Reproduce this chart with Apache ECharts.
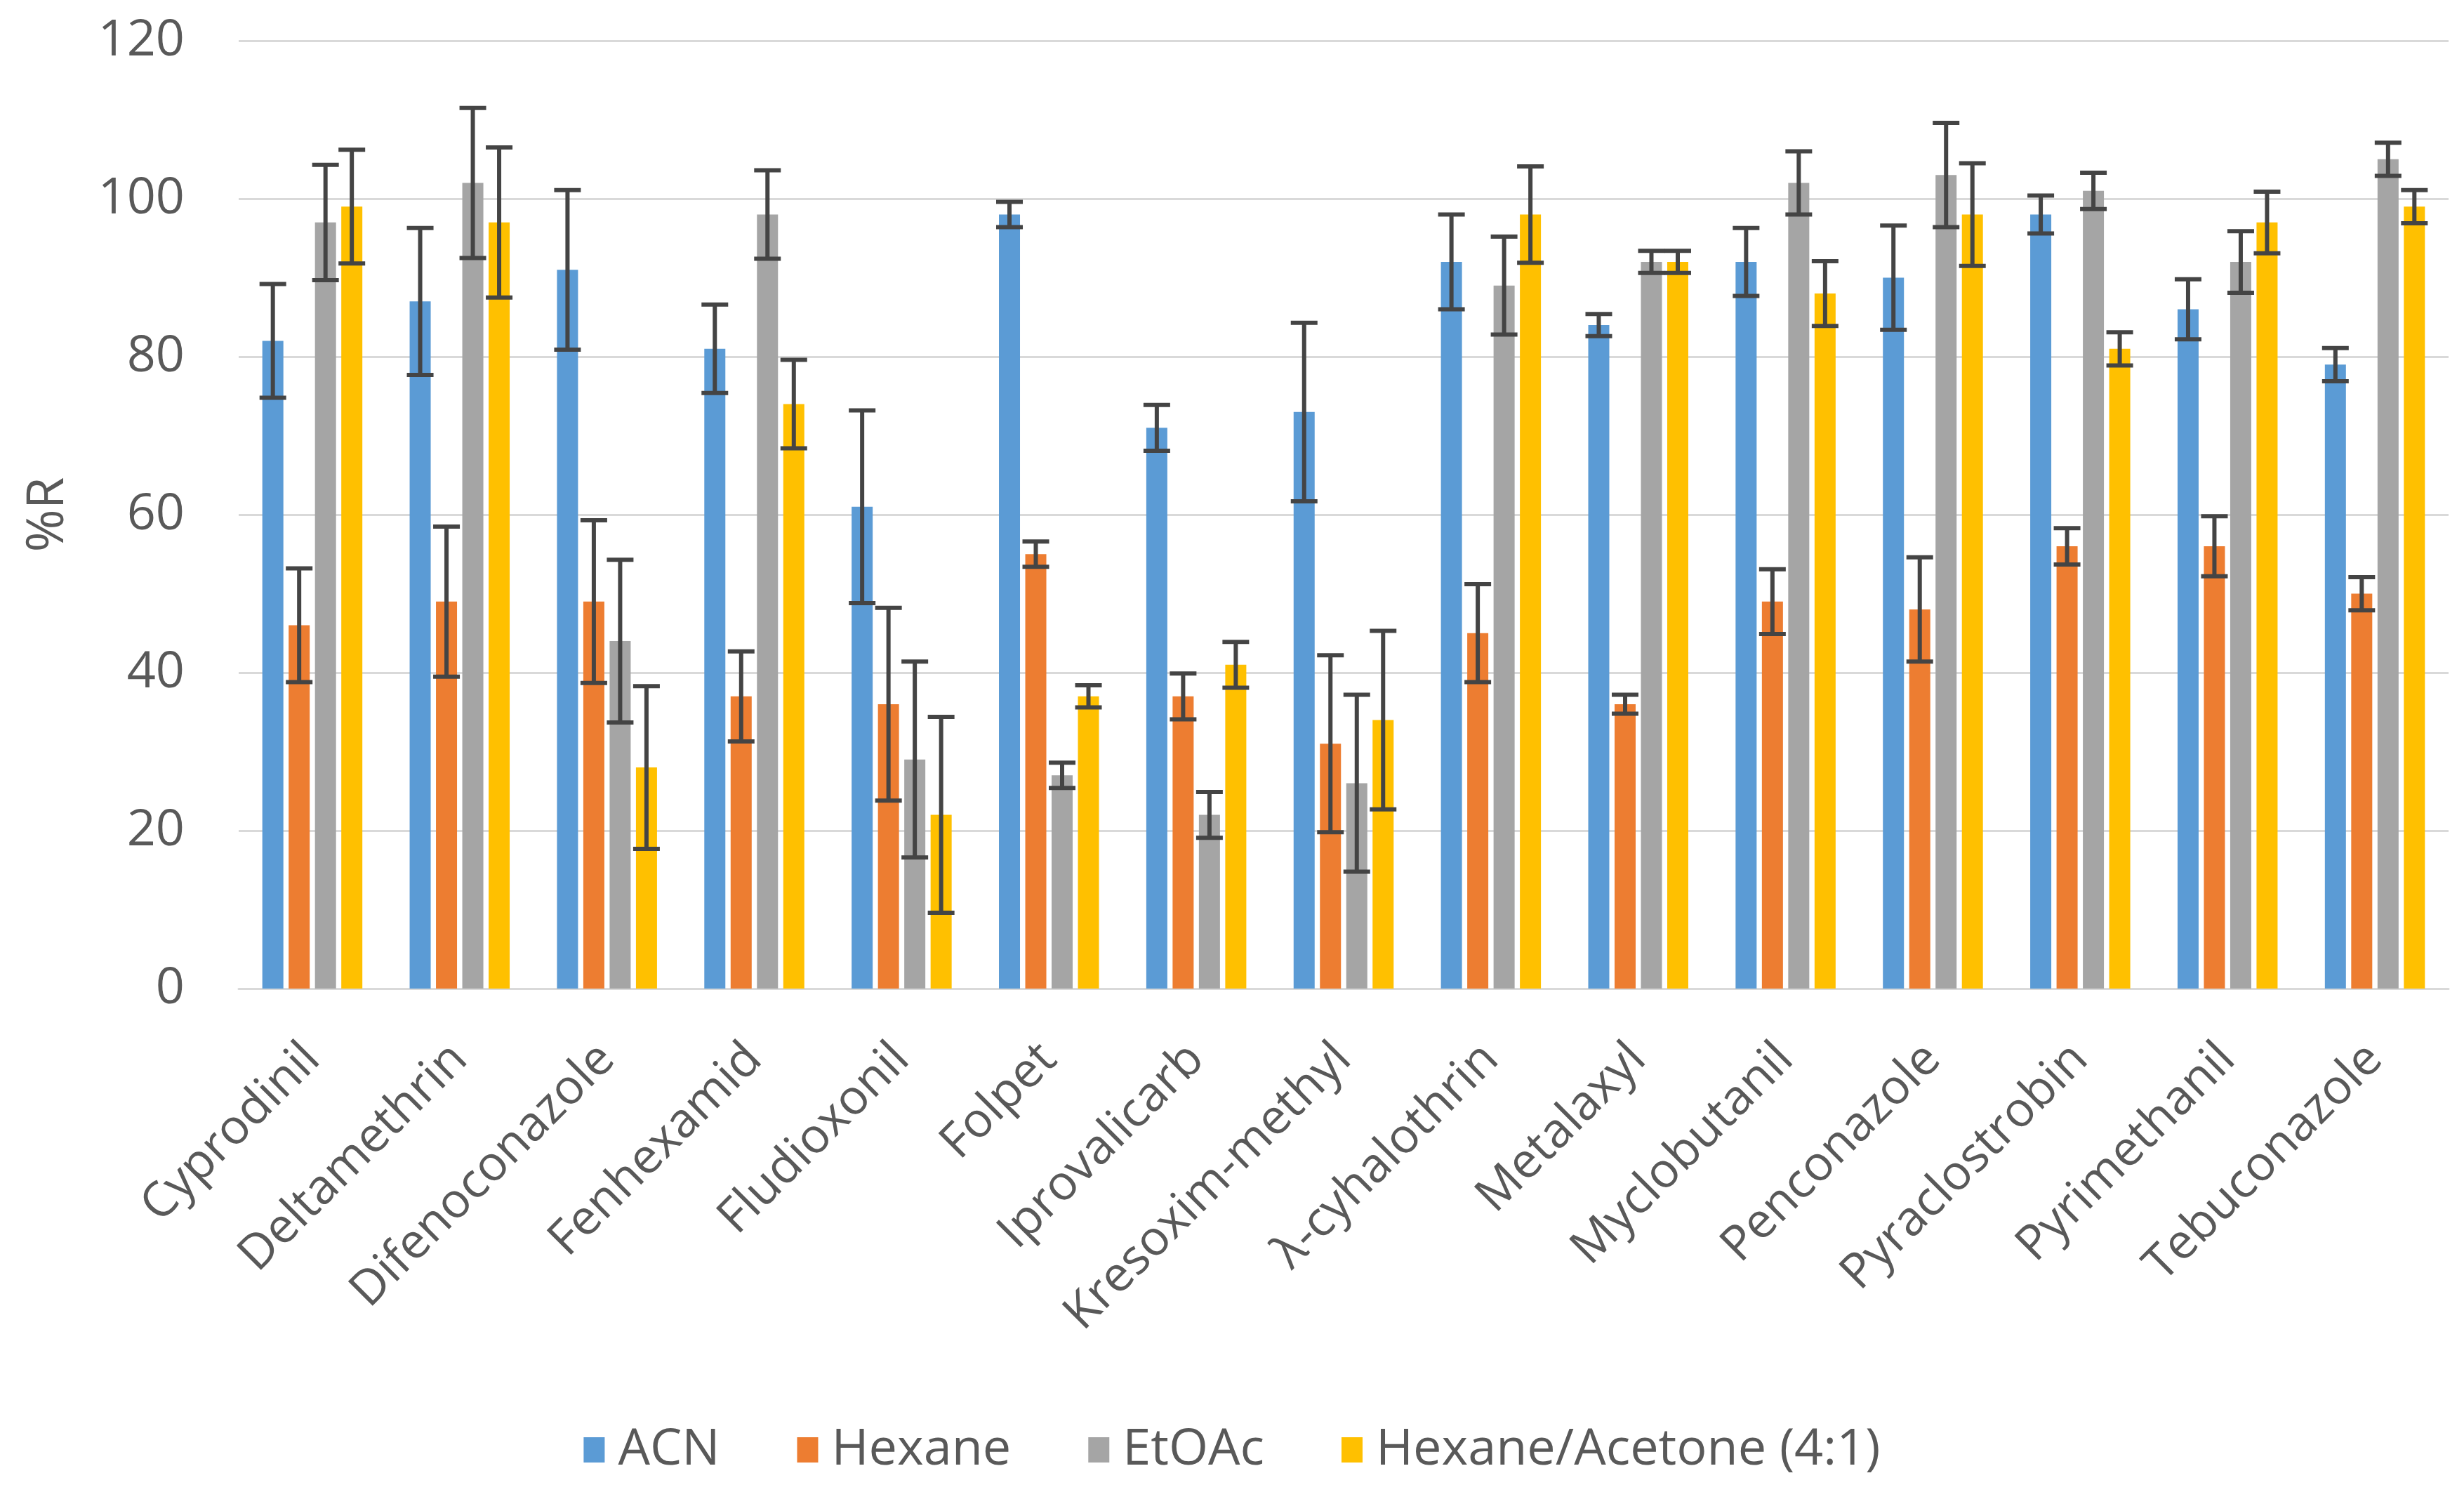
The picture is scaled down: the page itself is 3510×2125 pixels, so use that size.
<!DOCTYPE html>
<html>
<head>
<meta charset="utf-8">
<script src="https://cdn.jsdelivr.net/npm/echarts@6/dist/echarts.min.js"></script>
<style>
html,body{margin:0;padding:0;background:#fff;}
#chart{width:3510px;height:2125px;}
</style>
</head>
<body>
<div id="chart"></div>
<script>
const categories = ['Cyprodinil','Deltamethrin','Difenoconazole','Fenhexamid','Fludioxonil','Folpet','Iprovalicarb','Kresoxim-methyl','λ-cyhalothrin','Metalaxyl','Myclobutanil','Penconazole','Pyraclostrobin','Pyrimethanil','Tebuconazole'];
const seriesNames = ['ACN','Hexane','EtOAc','Hexane/Acetone (4:1)'];
const acn     = [82, 87, 91, 81, 61, 98, 71, 73, 92, 84, 92, 90, 98, 86, 79];
const hexane  = [46, 49, 49, 37, 36, 55, 37, 31, 45, 36, 49, 48, 56, 56, 50];
const etoac   = [97, 102, 44, 98, 29, 27, 22, 26, 89, 92, 102, 103, 101, 92, 105];
const hexAc   = [99, 97, 28, 74, 22, 37, 41, 34, 98, 92, 88, 98, 81, 97, 99];
const acnErr    = [7.2, 9.3, 10.1, 5.6, 12.2, 1.6, 2.9, 11.3, 6.0, 1.4, 4.3, 6.6, 2.4, 3.8, 2.1];
const hexaneErr = [7.2, 9.5, 10.3, 5.7, 12.2, 1.6, 2.9, 11.2, 6.2, 1.2, 4.1, 6.6, 2.3, 3.8, 2.1];
const etoacErr  = [7.3, 9.5, 10.3, 5.6, 12.4, 1.6, 2.9, 11.2, 6.2, 1.4, 4.0, 6.6, 2.3, 3.9, 2.1];
const hexAcErr  = [7.2, 9.5, 10.3, 5.6, 12.4, 1.4, 2.9, 11.3, 6.1, 1.4, 4.1, 6.5, 2.1, 3.9, 2.1];
const yTicks = [0, 20, 40, 60, 80, 100, 120];

const colors = ['#5B9BD5', '#ED7D31', '#A5A5A5', '#FFC000'];
const values = [acn, hexane, etoac, hexAc];
const errs = [acnErr, hexaneErr, etoacErr, hexAcErr];
const BAR_W = 30, BAR_GAP = 7.5;
const FONT = '"Open Sans", "Liberation Sans", sans-serif';
const TEXT = '#595959';

const chart = echarts.init(document.getElementById('chart'));

const barSeries = seriesNames.map((name, i) => ({
  name: name,
  type: 'bar',
  data: values[i],
  barWidth: BAR_W,
  barGap: (BAR_GAP / BAR_W * 100) + '%',
  itemStyle: { color: colors[i] },
  emphasis: { disabled: true },
  z: 2
}));

const errSeries = seriesNames.map((name, i) => ({
  name: name,
  type: 'custom',
  z: 5,
  silent: true,
  data: values[i].map((v, k) => [k, v - errs[i][k], v + errs[i][k]]),
  renderItem: function (params, api) {
    const idx = api.value(0);
    const lo = api.coord([idx, api.value(1)]);
    const hi = api.coord([idx, api.value(2)]);
    const off = (i - 1.5) * (BAR_W + BAR_GAP);
    const x = lo[0] + off;
    const hw = 19;
    const style = { stroke: '#444444', lineWidth: 6, fill: null };
    return {
      type: 'group',
      children: [
        { type: 'line', shape: { x1: x, y1: lo[1], x2: x, y2: hi[1] }, style: style },
        { type: 'line', shape: { x1: x - hw, y1: lo[1], x2: x + hw, y2: lo[1] }, style: style },
        { type: 'line', shape: { x1: x - hw, y1: hi[1], x2: x + hw, y2: hi[1] }, style: style }
      ]
    };
  }
}));

chart.setOption({
  animation: false,
  backgroundColor: '#ffffff',
  textStyle: { fontFamily: FONT },
  grid: { left: 340, right: 22, top: 58, bottom: 717 },
  legend: {
    data: seriesNames,
    top: 2024,
    left: 'center',
    itemWidth: 30,
    itemHeight: 36,
    itemGap: 110,
    icon: 'rect',
    textStyle: { color: TEXT, fontSize: 72, fontFamily: FONT, padding: [0, 0, 0, 14] }
  },
  xAxis: {
    type: 'category',
    data: categories,
    axisLine: { show: true, lineStyle: { color: '#D9D9D9', width: 3 } },
    axisTick: { show: false },
    axisLabel: {
      interval: 0, rotate: 45, color: TEXT, fontSize: 69, fontFamily: FONT, margin: 90
    }
  },
  yAxis: {
    type: 'value',
    min: yTicks[0],
    max: yTicks[yTicks.length - 1],
    interval: yTicks[1] - yTicks[0],
    name: '%R',
    nameLocation: 'middle',
    nameGap: 234,
    nameRotate: 90,
    nameTextStyle: { color: TEXT, fontSize: 74, fontFamily: FONT },
    axisLine: { show: false },
    axisTick: { show: false },
    splitLine: { lineStyle: { color: '#D9D9D9', width: 3 } },
    axisLabel: { color: TEXT, fontSize: 72, fontFamily: FONT, margin: 77 }
  },
  series: barSeries.concat(errSeries)
});
</script>
</body>
</html>
